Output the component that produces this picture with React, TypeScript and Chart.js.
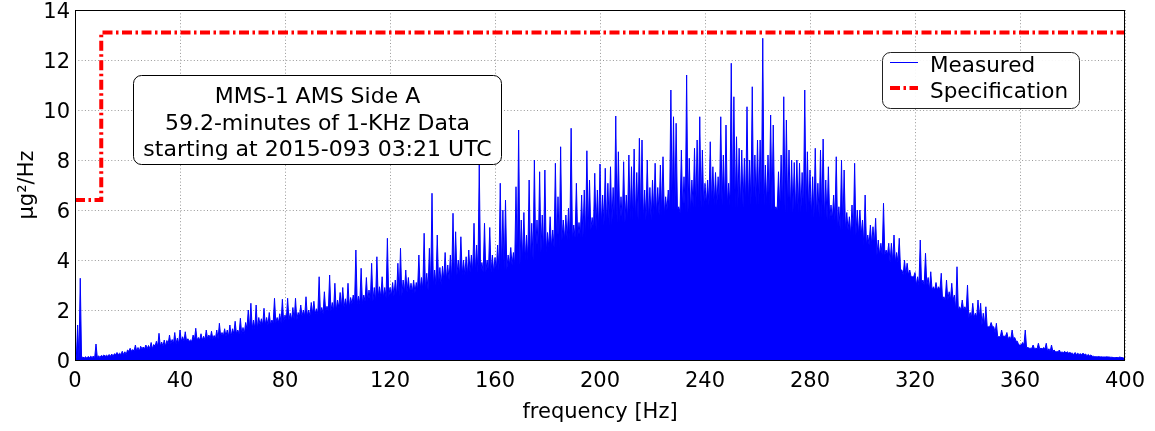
import React, { useEffect, useRef } from "react";
import { Chart, registerables } from "chart.js";

Chart.register(...registerables);

const FONT = "'DejaVu Sans', 'Liberation Sans', sans-serif";

const xTickValues = [0, 40, 80, 120, 160, 200, 240, 280, 320, 360, 400];
const yTickValues = [0, 2, 4, 6, 8, 10, 12, 14];

const specFreqHz = [0, 10, 400];
const specLevel = [6.4, 13.1, 13.1];

const measuredStartHz = 0;
const measuredStepHz = 1;
// PSD peak values (µg²/Hz), one per Hz from 0 to 400 Hz
const measuredPsd = [
  0.1, 1.4, 3.27, 0.12, 0.13, 0.14, 0.15, 0.16, 0.64, 0.17,
  0.18, 0.2, 0.19, 0.22, 0.24, 0.25, 0.3, 0.27, 0.35, 0.33,
  0.4, 0.47, 0.42, 0.6, 0.5, 0.55, 0.52, 0.6, 0.58, 0.7,
  0.62, 0.75, 1.07, 0.72, 0.8, 0.78, 1.0, 0.82, 1.1, 0.88,
  1.2, 0.93, 1.13, 0.85, 0.8, 1.0, 1.27, 0.9, 1.05, 0.95,
  1.2, 1.0, 1.15, 0.98, 1.2, 1.47, 1.1, 1.25, 1.2, 1.4,
  1.25, 1.55, 1.2, 1.67, 1.3, 1.5, 2.0, 2.27, 1.6, 2.2,
  1.7, 1.65, 2.07, 1.7, 1.9, 1.6, 2.47, 1.7, 1.85, 2.43,
  1.8, 2.47, 1.87, 2.1, 2.47, 1.9, 2.2, 2.0, 2.53, 2.0,
  2.3, 2.35, 2.05, 3.33, 2.1, 2.73, 2.15, 3.4, 2.3, 3.07,
  2.4, 2.7, 2.9, 2.45, 3.07, 2.5, 2.6, 4.4, 2.55, 3.67,
  2.6, 3.3, 2.8, 3.87, 2.9, 4.13, 2.93, 3.33, 2.9, 4.87,
  2.9, 3.1, 3.2, 3.87, 4.47, 3.2, 3.6, 3.3, 3.07, 3.2,
  3.1, 4.2, 3.3, 5.07, 3.47, 4.47, 6.67, 3.6, 5.0, 3.7,
  3.75, 4.3, 3.8, 4.2, 5.87, 5.13, 4.0, 4.93, 4.0, 4.13,
  4.4, 4.2, 5.47, 4.6, 7.8, 3.9, 5.47, 4.0, 5.3, 4.2,
  4.1, 4.6, 7.07, 6.0, 6.4, 4.2, 4.5, 4.3, 6.93, 9.2,
  5.6, 5.9, 5.0, 7.2, 5.47, 8.0, 5.6, 7.53, 5.8, 7.6,
  5.1, 5.73, 5.2, 7.87, 6.53, 8.53, 5.6, 5.8, 6.07, 9.27,
  5.4, 7.07, 5.5, 6.6, 6.8, 8.37, 7.2, 5.7, 7.47, 6.8,
  7.84, 6.6, 7.67, 7.07, 7.73, 6.9, 9.76, 8.33, 6.53, 7.93,
  6.6, 8.2, 7.73, 8.44, 7.5, 8.87, 8.8, 6.8, 8.0, 6.9,
  7.2, 7.87, 6.9, 7.8, 8.13, 6.53, 6.8, 10.8, 9.73, 9.47,
  6.13, 8.4, 7.33, 11.4, 8.07, 7.2, 8.47, 8.8, 9.73, 8.4,
  7.07, 7.2, 8.73, 7.73, 7.5, 7.33, 9.73, 8.2, 9.4, 7.07,
  11.87, 10.53, 8.93, 8.47, 8.4, 8.07, 10.13, 8.0, 10.93, 8.2,
  8.8, 8.8, 12.87, 7.8, 8.2, 9.8, 9.4, 6.13, 7.53, 8.2,
  10.53, 9.6, 8.4, 8.0, 7.9, 8.0, 7.87, 7.5, 10.8, 8.33,
  7.6, 7.33, 8.47, 7.07, 8.4, 8.84, 7.2, 7.73, 6.2, 6.6,
  8.13, 6.13, 8.0, 7.6, 5.9, 5.73, 6.2, 7.87, 6.0, 6.0,
  5.6, 6.6, 5.0, 5.4, 5.33, 5.67, 4.8, 4.67, 6.27, 4.4,
  4.67, 4.67, 5.0, 4.3, 4.87, 3.6, 4.0, 3.87, 3.6, 3.33,
  3.5, 3.33, 4.8, 3.2, 4.27, 3.3, 3.53, 2.93, 3.1, 2.93,
  3.47, 2.53, 3.2, 2.73, 3.07, 2.6, 3.73, 2.13, 2.4, 2.13,
  3.0, 1.9, 2.27, 1.87, 2.4, 2.27, 1.87, 2.13, 1.33, 1.5,
  1.33, 1.47, 0.93, 1.2, 0.95, 1.1, 0.93, 1.2, 0.9, 0.75,
  0.6, 0.7, 1.2, 0.5, 0.47, 0.6, 0.47, 0.67, 0.47, 0.5,
  0.67, 0.45, 0.6, 0.4, 0.33, 0.4, 0.33, 0.35, 0.33, 0.3,
  0.27, 0.3, 0.27, 0.25, 0.27, 0.24, 0.22, 0.2, 0.15, 0.13,
  0.14, 0.13, 0.12, 0.13, 0.12, 0.11, 0.1, 0.1, 0.12, 0.1,
  0.08,
];

// Solid "floor" level (µg²/Hz) under the spikes, one per 5 Hz band
const floorBandHz = 5;
const measuredFloor = [
  0.08, 0.1, 0.15, 0.22, 0.35, 0.45, 0.55, 0.65, 0.75, 0.8,
  0.85, 0.95, 1.05, 1.25, 1.4, 1.5, 1.6, 1.75, 1.85, 1.95,
  2.1, 2.25, 2.35, 2.5, 2.55, 2.7, 2.8, 3.0, 3.2, 3.4,
  3.5, 3.5, 3.6, 3.8, 4.0, 4.3, 4.5, 4.8, 4.9, 5.2,
  5.4, 5.5, 5.6, 5.6, 5.8, 6.0, 5.9, 6.1, 6.2, 6.2,
  6.1, 6.2, 6.2, 6.0, 5.9, 5.9, 5.7, 5.6, 5.2, 5.0,
  4.6, 4.2, 3.9, 3.4, 3.0, 2.8, 2.4, 2.0, 1.7, 1.4,
  1.1, 0.85, 0.6, 0.45, 0.35, 0.28, 0.22, 0.17, 0.12, 0.1,
  0.07,
];

const annotationLines = [
  "MMS-1 AMS Side A",
  "59.2-minutes of 1-KHz Data",
  "starting at 2015-093 03:21 UTC",
];
const legendLabels = ["Measured", "Specification"];
const xTitle = "frequency [Hz]";
const yTitle = "µg²/Hz";

const MEASURED_COLOR = "#0000ff";
const SPEC_COLOR = "#ff0000";
const SPEC_DASH = [10, 3.5, 2.5, 3.5];

const overlayPlugin = {
  id: "overlay",
  afterDraw(chart: any) {
    const { ctx, chartArea: a } = chart;
    ctx.save();
    // frame
    ctx.strokeStyle = "#000";
    ctx.lineWidth = 1;
    ctx.setLineDash([]);
    ctx.strokeRect(a.left + 0.5, a.top + 0.5, a.right - a.left - 1, a.bottom - a.top);

    // y tick labels
    const ys = chart.scales.y;
    ctx.fillStyle = "#000";
    ctx.font = `21px ${FONT}`;
    ctx.textAlign = "right";
    ctx.textBaseline = "alphabetic";
    yTickValues.forEach((v) => {
      ctx.fillText(String(v), a.left - 5, ys.getPixelForValue(v) + 8);
    });

    // annotation box
    ctx.beginPath();
    ctx.roundRect(133.5, 75.5, 368, 89, 8);
    ctx.fillStyle = "#ffffff";
    ctx.fill();
    ctx.strokeStyle = "#000";
    ctx.stroke();
    ctx.fillStyle = "#000";
    ctx.font = `22px ${FONT}`;
    ctx.textAlign = "center";
    const baselines = [103, 129.5, 156];
    annotationLines.forEach((t, i) => ctx.fillText(t, 317.5, baselines[i]));

    // legend
    ctx.beginPath();
    ctx.roundRect(882.5, 52.5, 197, 56, 8);
    ctx.fillStyle = "rgba(255,255,255,0.92)";
    ctx.fill();
    ctx.strokeStyle = "#222";
    ctx.stroke();

    ctx.beginPath();
    ctx.strokeStyle = MEASURED_COLOR;
    ctx.lineWidth = 1;
    ctx.moveTo(890, 62.5);
    ctx.lineTo(918, 62.5);
    ctx.stroke();

    ctx.beginPath();
    ctx.strokeStyle = SPEC_COLOR;
    ctx.lineWidth = 4;
    ctx.setLineDash(SPEC_DASH);
    ctx.moveTo(890, 88);
    ctx.lineTo(918, 88);
    ctx.stroke();
    ctx.setLineDash([]);

    ctx.fillStyle = "#000";
    ctx.font = `21.5px ${FONT}`;
    ctx.textAlign = "left";
    ctx.fillText(legendLabels[0], 930, 72);
    ctx.fillText(legendLabels[1], 930, 98);
    ctx.restore();
  },
};

export default function App() {
  const ref = useRef<HTMLCanvasElement | null>(null);

  useEffect(() => {
    document.body.style.margin = "0";
    const canvas = ref.current;
    if (!canvas) return;

    // each 1 Hz bin: spike top at the bin frequency, then back down to the floor level
    const measuredPoints: { x: number; y: number }[] = [];
    measuredPsd.forEach((v, i) => {
      const f = measuredStartHz + i * measuredStepHz;
      measuredPoints.push({ x: f, y: v });
      if (i < measuredPsd.length - 1) {
        const band = measuredFloor[Math.min(measuredFloor.length - 1, Math.floor(f / floorBandHz))];
        measuredPoints.push({ x: f + measuredStepHz / 2, y: Math.min(band, v, measuredPsd[i + 1]) });
      }
    });
    const specPoints = specFreqHz.map((f, i) => ({ x: f, y: specLevel[i] }));

    const chart = new Chart(canvas, {
      type: "line",
      data: {
        datasets: [
          {
            label: legendLabels[1],
            data: specPoints,
            borderColor: SPEC_COLOR,
            borderWidth: 4,
            borderDash: SPEC_DASH,
            stepped: "before",
            pointRadius: 0,
            fill: false,
          },
          {
            label: legendLabels[0],
            data: measuredPoints,
            borderColor: MEASURED_COLOR,
            backgroundColor: MEASURED_COLOR,
            borderWidth: 1,
            pointRadius: 0,
            tension: 0,
            fill: "origin",
          },
        ],
      },
      options: {
        animation: false,
        responsive: false,
        devicePixelRatio: 1,
        layout: { padding: { left: 0, right: 30, top: 10, bottom: 0 } },
        plugins: { legend: { display: false }, tooltip: { enabled: false } },
        scales: {
          x: {
            type: "linear",
            min: 0,
            max: 400,
            afterBuildTicks: (s: any) => {
              s.ticks = xTickValues.map((v) => ({ value: v }));
            },
            afterFit: (s: any) => {
              s.height = 71;
              s.paddingLeft = 0;
              s.paddingRight = 0;
            },
            ticks: {
              color: "#000",
              font: { family: FONT, size: 21 },
              padding: 9,
              maxRotation: 0,
              autoSkip: false,
            },
            grid: { color: "#999", lineWidth: 1, drawTicks: false },
            border: { display: false, dash: [1, 2.3] },
            title: {
              display: true,
              text: xTitle,
              color: "#000",
              font: { family: FONT, size: 21 },
              padding: { top: 0, bottom: 6 },
            },
          },
          y: {
            type: "linear",
            min: 0,
            max: 14,
            afterBuildTicks: (s: any) => {
              s.ticks = yTickValues.map((v) => ({ value: v }));
            },
            afterFit: (s: any) => {
              s.width = 75;
              s.paddingTop = 0;
              s.paddingBottom = 0;
            },
            ticks: { display: false },
            grid: { color: "#999", lineWidth: 1, drawTicks: false },
            border: { display: false, dash: [1, 2.3] },
            title: {
              display: true,
              text: yTitle,
              color: "#000",
              font: { family: FONT, size: 21 },
              padding: { top: 15, bottom: 0 },
            },
          },
        },
      },
      plugins: [overlayPlugin],
    });

    return () => chart.destroy();
  }, []);

  return (
    <canvas
      ref={ref}
      width={1155}
      height={431}
      style={{ display: "block", width: 1155, height: 431 }}
    />
  );
}
